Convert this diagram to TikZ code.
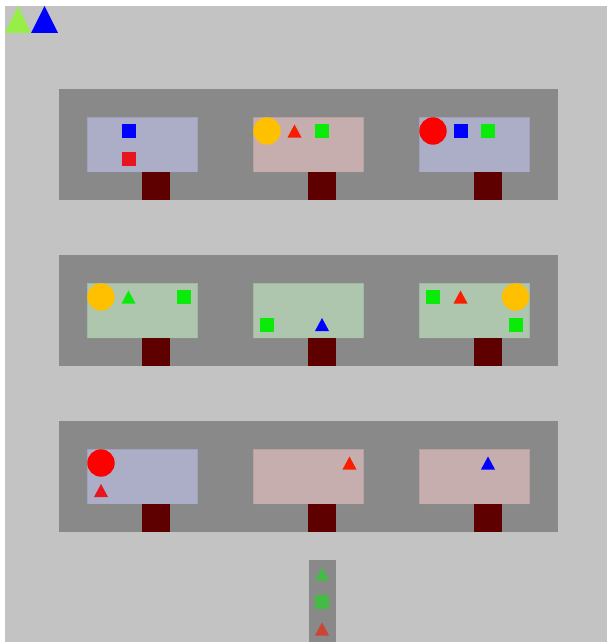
\documentclass[tikz,border=0pt]{standalone}
\usepackage{xcolor}
\usepackage{tikz}
\usetikzlibrary{calc}
\definecolor{BackGray}  {RGB}{195,195,195}
\definecolor{PanelGray} {RGB}{137,137,137}
\definecolor{TrayBlue}  {RGB}{172,174,200}
\definecolor{TrayPink}  {RGB}{198,174,174}
\definecolor{TrayGreen} {RGB}{174,198,174}
\definecolor{StemDark}  {RGB}{ 95,  0,  0}
\definecolor{TokRed}    {RGB}{255,  0,  0}
\definecolor{TokCrimson}{RGB}{232, 20, 30}
\definecolor{TokScarlet}{RGB}{250, 30,  0}
\definecolor{TokBlue}   {RGB}{  0,  0,255}
\definecolor{TokGreen}  {RGB}{ 10,235, 10}
\definecolor{TokAmber}  {RGB}{255,192,  0}
\definecolor{TokLime}   {RGB}{150,238, 70}
\definecolor{TokMoss}   {RGB}{ 68,187, 68}
\definecolor{TokBrick}  {RGB}{204, 68, 51}
% token at tray (#2,#3), slot (#4,#5)
\newcommand{\Token}[6]{%
  \coordinate (tok) at ({101+166*#2+27.5*#4},{131+166*#3+27.5*#5});
  \csname Draw#1\endcsname{#6}}
\newcommand{\DrawCirc}[1]{\fill[#1] (tok) circle (13.7pt);}
\newcommand{\DrawSq}[1]{\fill[#1] ($(tok)+(-7,-7)$) rectangle ($(tok)+(7,7)$);}
\newcommand{\DrawTri}[1]{\fill[#1] ($(tok)+(-7,6.5)$) -- ($(tok)+(0,-6.5)$)
  -- ($(tok)+(7,6.5)$) -- cycle;}

\begin{document}
\begin{tikzpicture}[x=1pt,y=-1pt]
  \useasboundingbox (0,0) rectangle (607,642);
  \fill[BackGray] (5,6) rectangle (607,642);
  % corner markers
  \fill[TokLime] (5,33) -- (18,6) -- (31,33) -- cycle;
  \fill[TokBlue] (31,33) -- (44.5,6) -- (58,33) -- cycle;
  % panels
  \foreach \j in {0,1,2}
    \fill[PanelGray] (59,{89+166*\j}) rectangle (557.5,{199.5+166*\j});
  % trays with stems
  \foreach \i/\j/\col in {0/0/TrayBlue, 1/0/TrayPink, 2/0/TrayBlue,
                          0/1/TrayGreen,1/1/TrayGreen,2/1/TrayGreen,
                          0/2/TrayBlue, 1/2/TrayPink, 2/2/TrayPink}{
    \fill[\col, draw=\col!80!black, draw opacity=0.35, line width=0.7pt]
      ({87+166*\i},{117+166*\j}) rectangle ({197.5+166*\i},{172+166*\j});
    \fill[StemDark]
      ({142+166*\i},{172+166*\j}) rectangle ({169.5+166*\i},{199.5+166*\j});
  }
  % tokens, top row
  \Token{Sq}{0}{0}{1}{0}{TokBlue}
  \Token{Sq}{0}{0}{1}{1}{TokCrimson}
  \Token{Circ}{1}{0}{0}{0}{TokAmber}
  \Token{Tri}{1}{0}{1}{0}{TokScarlet}
  \Token{Sq}{1}{0}{2}{0}{TokGreen}
  \Token{Circ}{2}{0}{0}{0}{TokRed}
  \Token{Sq}{2}{0}{1}{0}{TokBlue}
  \Token{Sq}{2}{0}{2}{0}{TokGreen}
  % tokens, middle row
  \Token{Circ}{0}{1}{0}{0}{TokAmber}
  \Token{Tri}{0}{1}{1}{0}{TokGreen}
  \Token{Sq}{0}{1}{3}{0}{TokGreen}
  \Token{Sq}{1}{1}{0}{1}{TokGreen}
  \Token{Tri}{1}{1}{2}{1}{TokBlue}
  \Token{Sq}{2}{1}{0}{0}{TokGreen}
  \Token{Tri}{2}{1}{1}{0}{TokScarlet}
  \Token{Circ}{2}{1}{3}{0}{TokAmber}
  \Token{Sq}{2}{1}{3}{1}{TokGreen}
  % tokens, bottom row
  \Token{Circ}{0}{2}{0}{0}{TokRed}
  \Token{Tri}{0}{2}{0}{1}{TokCrimson}
  \Token{Tri}{1}{2}{3}{0}{TokScarlet}
  \Token{Tri}{2}{2}{2}{0}{TokBlue}
  % legend strip
  \fill[PanelGray] (308.5,560) rectangle (336,642);
  \coordinate (tok) at (322,574);   \DrawTri{TokMoss}
  \coordinate (tok) at (322,601.5); \DrawSq{TokMoss}
  \coordinate (tok) at (322,629);   \DrawTri{TokBrick}
\end{tikzpicture}
\end{document}
